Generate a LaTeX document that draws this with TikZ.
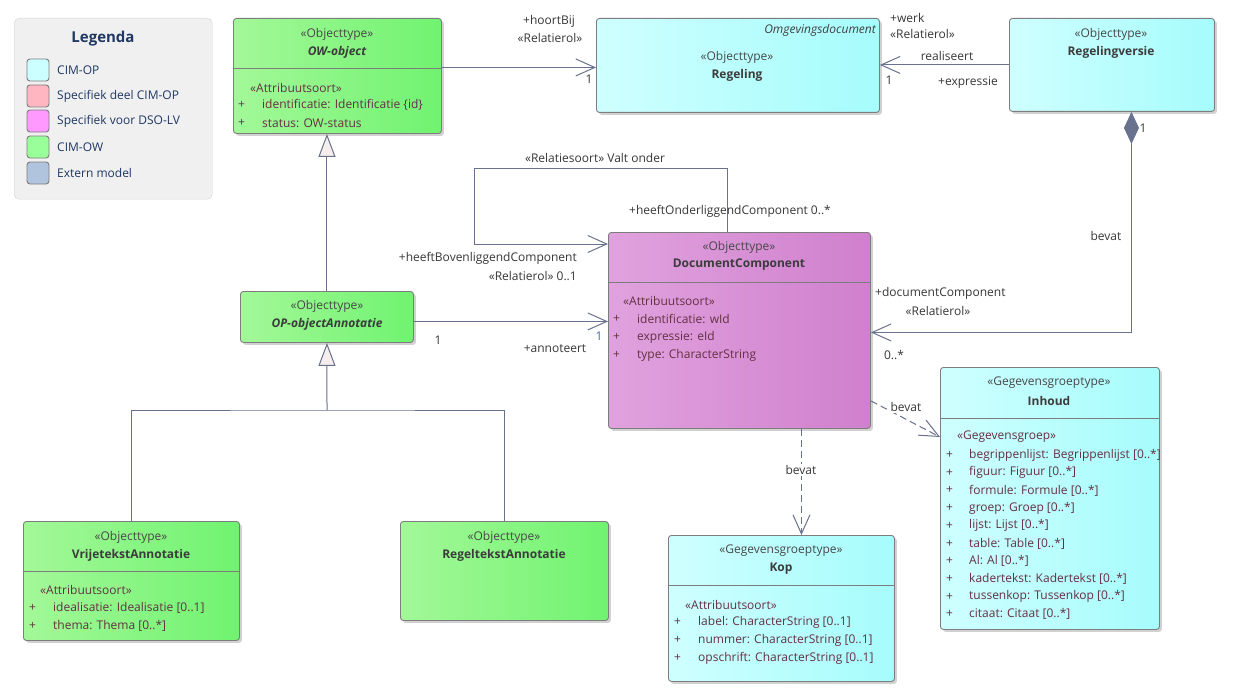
\documentclass[tikz,border=0pt]{standalone}
\usepackage{fontspec}
\setmainfont{Open Sans}
\usetikzlibrary{arrows.meta,shadows}
\definecolor{opL}{RGB}{207,255,255}
\definecolor{opR}{RGB}{166,252,252}
\definecolor{owL}{RGB}{163,248,152}
\definecolor{owR}{RGB}{112,243,112}
\definecolor{dsL}{RGB}{224,162,222}
\definecolor{dsR}{RGB}{208,128,205}
\definecolor{bordc}{RGB}{125,125,125}
\definecolor{lc}{RGB}{104,113,142}
\definecolor{txtc}{RGB}{64,64,64}
\definecolor{stc}{RGB}{72,72,72}
\definecolor{nmc}{RGB}{60,60,60}
\definecolor{atc}{RGB}{100,48,66}
\definecolor{lbc}{RGB}{55,55,55}
\definecolor{legtxt}{RGB}{31,56,100}
\definecolor{legbg}{RGB}{240,240,240}
\definecolor{legbd}{RGB}{212,212,212}
\definecolor{swa}{RGB}{204,255,255}
\definecolor{swb}{RGB}{255,182,193}
\definecolor{swc}{RGB}{255,153,255}
\definecolor{swd}{RGB}{153,255,153}
\definecolor{swe}{RGB}{176,196,222}
\definecolor{trif}{RGB}{245,238,236}
\definecolor{bluec}{RGB}{60,110,170}
\begin{document}
\begin{tikzpicture}[x=1pt,y=-1pt,
  umlbox/.style={draw=bordc, line width=0.9pt, rounded corners=3pt, anchor=north west, inner sep=0,
    drop shadow={shadow xshift=2.5pt, shadow yshift=-2.5pt, fill=black, opacity=0.18}},
  cimop/.style={umlbox, left color=opL, right color=opR},
  cimow/.style={umlbox, left color=owL, right color=owR},
  dso/.style={umlbox, left color=dsL, right color=dsR},
  divl/.style={draw=bordc, line width=0.9pt},
  tx/.style={inner sep=0, font=\fontsize{12}{14}\selectfont, text=txtc},
  sttx/.style={tx, text=stc},
  nmtx/.style={tx, font=\fontsize{12}{14}\selectfont\bfseries, text=nmc},
  nmitx/.style={tx, font=\fontsize{12}{14}\selectfont\bfseries\itshape, text=nmc},
  attr/.style={tx, anchor=west, text=atc},
  lbtx/.style={tx, text=lbc},
  conn/.style={draw=lc, line width=1pt},
  barb/.style={conn, -{Straight Barb[length=19pt,width=17pt]}},
  dashc/.style={barb, dash pattern=on 7pt off 4pt},
  genl/.style={conn, -{Triangle[length=23pt,width=17pt,fill=trif]}},
  swatch/.style={draw=bordc, line width=0.9pt, rounded corners=3pt, minimum width=22pt, minimum height=22pt, inner sep=0},
  legt/.style={tx, anchor=west, text=legtxt}
]
\useasboundingbox (0,0) rectangle (1233,698);
\fill[white] (0,0) rectangle (1233,698);

% Legend
\node[draw=legbd, fill=legbg, rounded corners=5pt, anchor=north west, minimum width=198pt, minimum height=181pt, inner sep=0] (legend) at (14,18) {};
\node[tx, font=\fontsize{15}{18}\selectfont\bfseries, text=legtxt] (legtitle) at (103,39) {Legenda};
\node[swatch, fill=swa] (s1) at (38,70) {};
\node[swatch, fill=swb] (s2) at (38,96) {};
\node[swatch, fill=swc] (s3) at (38,121) {};
\node[swatch, fill=swd] (s4) at (38,147) {};
\node[swatch, fill=swe] (s5) at (38,173) {};
\node[legt] (l1) at (57,70) {CIM-OP};
\node[legt] (l2) at (57,96) {Specifiek deel CIM-OP};
\node[legt] (l3) at (57,121) {Specifiek voor DSO-LV};
\node[legt] (l4) at (57,147) {CIM-OW};
\node[legt] (l5) at (57,173) {Extern model};

% OW-object
\node[cimow, minimum width=208pt, minimum height=115pt] (ow) at (233,18) {};
\draw[divl] ([yshift=-50pt]ow.north west) -- ([yshift=-50pt]ow.north east);
\node[sttx] (ows) at (337,34) {«Objecttype»};
\node[nmitx] (own) at (337,52) {OW-object};
\node[attr] (owa) at (250,88) {«Attribuutsoort»};
\node[attr] (owp1) at (238,105) {+};
\node[attr] (owa1) at (262,105) {identificatie: Identificatie \{id\}};
\node[attr] (owp2) at (238,123) {+};
\node[attr] (owa2) at (262,123) {status: OW-status};

% Regeling
\node[cimop, minimum width=283pt, minimum height=94pt] (reg) at (596,18) {};
\node[tx, anchor=east, font=\fontsize{12}{14}\selectfont\itshape] (regp) at (876,30) {Omgevingsdocument};
\node[sttx] (regs) at (737,57) {«Objecttype»};
\node[nmtx] (regn) at (737,75) {Regeling};

% Regelingversie
\node[cimop, minimum width=205pt, minimum height=93pt] (rv) at (1009,18) {};
\node[sttx] (rvs) at (1111,34) {«Objecttype»};
\node[nmtx] (rvn) at (1111,52) {Regelingversie};

% DocumentComponent
\node[dso, minimum width=262pt, minimum height=196pt] (dc) at (608,232) {};
\draw[divl] ([yshift=-50pt]dc.north west) -- ([yshift=-50pt]dc.north east);
\node[sttx] (dcs) at (739,247) {«Objecttype»};
\node[nmtx] (dcn) at (739,265) {DocumentComponent};
\node[attr] (dca) at (623,301) {«Attribuutsoort»};
\node[attr] (dcp1) at (613,319) {+};
\node[attr] (dca1) at (637,319) {identificatie: wId};
\node[attr] (dcp2) at (613,337) {+};
\node[attr] (dca2) at (637,337) {expressie: eId};
\node[attr] (dcp3) at (613,355) {+};
\node[attr] (dca3) at (637,355) {type: CharacterString};

% OP-objectAnnotatie
\node[cimow, minimum width=173pt, minimum height=51pt] (opa) at (240,291) {};
\node[sttx] (opas) at (327,306) {«Objecttype»};
\node[nmitx] (opan) at (327,324) {OP-objectAnnotatie};

% VrijetekstAnnotatie
\node[cimow, minimum width=216pt, minimum height=119pt] (vta) at (23,521) {};
\draw[divl] ([yshift=-50pt]vta.north west) -- ([yshift=-50pt]vta.north east);
\node[sttx] (vtas) at (131,537) {«Objecttype»};
\node[nmtx] (vtan) at (131,555) {VrijetekstAnnotatie};
\node[attr] (vtaa) at (40,590) {«Attribuutsoort»};
\node[attr] (vtap1) at (29,608) {+};
\node[attr] (vtaa1) at (53,608) {idealisatie: Idealisatie [0..1]};
\node[attr] (vtap2) at (29,626) {+};
\node[attr] (vtaa2) at (53,626) {thema: Thema [0..*]};

% RegeltekstAnnotatie
\node[cimow, minimum width=208pt, minimum height=99pt] (rta) at (400,521) {};
\node[sttx] (rtas) at (504,537) {«Objecttype»};
\node[nmtx] (rtan) at (504,555) {RegeltekstAnnotatie};

% Kop
\node[cimop, minimum width=226pt, minimum height=146pt] (kop) at (668,535) {};
\draw[divl] ([yshift=-50pt]kop.north west) -- ([yshift=-50pt]kop.north east);
\node[sttx] (kops) at (781,551) {«Gegevensgroeptype»};
\node[nmtx] (kopn) at (781,569) {Kop};
\node[attr] (kopa) at (685,605) {«Attribuutsoort»};
\node[attr] (kopp1) at (674,622) {+};
\node[attr] (kopa1) at (698,622) {label: CharacterString [0..1]};
\node[attr] (kopp2) at (674,640) {+};
\node[attr] (kopa2) at (698,640) {nummer: CharacterString [0..1]};
\node[attr] (kopp3) at (674,658) {+};
\node[attr] (kopa3) at (698,658) {opschrift: CharacterString [0..1]};

% Inhoud
\node[cimop, minimum width=219pt, minimum height=262pt] (inh) at (940,367) {};
\draw[divl] ([yshift=-51pt]inh.north west) -- ([yshift=-51pt]inh.north east);
\node[sttx] (inhs) at (1049,383) {«Gegevensgroeptype»};
\node[nmtx] (inhn) at (1049,401) {Inhoud};
\node[attr] (inha) at (957,437) {«Gegevensgroep»};
\foreach \i/\txt in {0/{begrippenlijst: Begrippenlijst [0..*]},1/{figuur: Figuur [0..*]},2/{formule: Formule [0..*]},3/{groep: Groep [0..*]},4/{lijst: Lijst [0..*]},5/{table: Table [0..*]},6/{Al: Al [0..*]},7/{kadertekst: Kadertekst [0..*]},8/{tussenkop: Tussenkop [0..*]},9/{citaat: Citaat [0..*]}}{
  \node[attr] (inhp\i) at (946,455+17.7*\i) {+};
  \node[attr] (inha\i) at (969,455+17.7*\i) {\txt};
}

% Connectors
\draw[barb] ([yshift=-2pt]reg.west -| ow.east) -- ([yshift=-2pt]reg.west);
\node[lbtx] (c1a) at (549,21) {+hoortBij};
\node[lbtx] (c1b) at (550,38) {«Relatierol»};
\node[lbtx] (c1c) at (589,79) {1};

\draw[barb] (rv.west) -- (rv.west -| reg.east);
\node[lbtx, anchor=west] (c2a) at (890,18) {+werk};
\node[lbtx, anchor=west] (c2b) at (890,34) {«Relatierol»};
\node[lbtx] (c2c) at (947,56) {realiseert};
\node[lbtx] (c2d) at (889,80) {1};
\node[lbtx] (c2e) at (968,83) {+expressie};

\draw[conn, {Diamond[length=32pt,width=15pt,fill=lc]}-{Straight Barb[length=19pt,width=17pt]}] ([xshift=19.5pt]rv.south) |- ([yshift=-2pt]dc.east);
\node[lbtx] (c3a) at (1143,128) {1};
\node[lbtx] (c3b) at (1106,236) {bevat};
\node[lbtx, anchor=west] (c3c) at (875,293) {+documentComponent};
\node[lbtx] (c3d) at (938,311) {«Relatierol»};
\node[lbtx] (c3e) at (894,355) {0..*};

\coordinate (loopL) at (474,168);
\draw[barb] ([xshift=-12pt]dc.north) |- (loopL) |- ([yshift=-12pt]dc.north west);
\node[lbtx] (c4a) at (595,158) {«Relatiesoort» Valt onder};
\node[lbtx] (c4b) at (730,211) {+heeftOnderliggendComponent 0..*};
\node[lbtx, anchor=east] (c4c) at (577,258) {+heeftBovenliggendComponent};
\node[lbtx, anchor=east] (c4d) at (577,276) {«Relatierol» 0..1};

\draw[barb] ([yshift=-4.5pt]opa.east) -- ([yshift=-4.5pt]opa.east -| dc.west);
\node[lbtx] (c5a) at (438,340) {1};
\node[lbtx, text=bluec] (c5b) at (599,336) {1};
\node[lbtx] (c5c) at (555,349) {+annoteert};

\draw[dashc] ([xshift=62pt]dc.south) -- ([xshift=62pt]dc.south |- kop.north);
\node[lbtx, fill=white, inner sep=1pt] (c6a) at (801,470) {bevat};

\draw[dashc] ([yshift=28pt]dc.south east) -- ([yshift=-70pt]inh.north west);
\node[lbtx, fill=white, inner sep=1pt] (c7a) at (906,407) {bevat};

\draw[genl] (opa.north) -- (opa.north |- ow.south);
\coordinate (gj) at (327,410);
\draw[conn] (vta.north) |- (gj) -| (rta.north);
\draw[genl] (gj) -- (opa.south);
\end{tikzpicture}
\end{document}
